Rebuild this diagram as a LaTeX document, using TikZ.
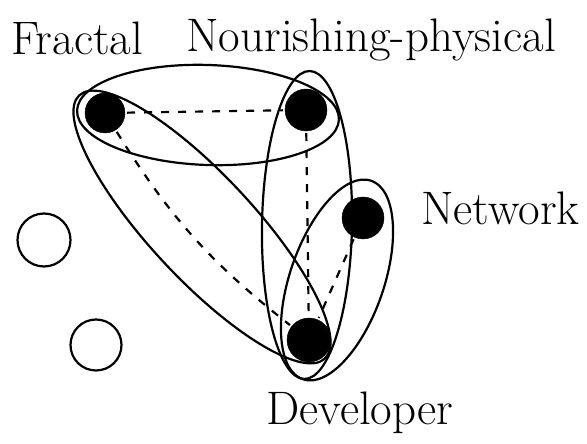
\documentclass[tikz,border=0pt]{standalone}
\usepackage{tikz}
\usetikzlibrary{shapes,arrows,positioning,calc}
\tikzstyle{dot} = [draw, circle, fill=black, minimum size=42pt, inner sep=0pt]
\tikzstyle{hollow} = [draw, circle, line width=2.2pt, minimum size=53pt, inner sep=0pt]
\tikzstyle{tag} = [anchor=base west, inner sep=0pt, font=\fontsize{47}{50}\selectfont]
\tikzstyle{edge} = [line width=2.2pt]
\tikzstyle{link} = [line width=2.2pt, dash pattern=on 8pt off 9pt, shorten <=2pt, shorten >=2pt]

\begin{document}
\begin{tikzpicture}[x=1pt, y=1pt]
    \useasboundingbox (0,0) rectangle (587,444);
    % Vertices
    \node [dot, minimum size=40pt] (fractal) at (105,331) {};
    \node [dot] (nourish) at (306,334) {};
    \node [dot] (network) at (363,226) {};
    \node [dot, minimum size=44pt] (developer) at (309,104) {};
    \node [hollow] (lone1) at (44,204) {};
    \node [hollow, minimum size=51pt] (lone2) at (96,99) {};

    % Labels
    \node [tag] (fractaltag) at (11,389) {Fractal};
    \node [tag] (nourishtag) at (186,392) {Nourishing-physical};
    \node [tag] (networktag) at (421,219) {Network};
    \node [tag] (developertag) at (266,19) {Developer};

    % Hyperedges
    \draw [edge, rotate around={-2:(208,329)}] (208,329) ellipse (131pt and 50pt);
    \draw [edge, rotate around={-47:(202,217)}] (202,217) ellipse (180pt and 52pt);
    \draw [edge, rotate around={89:(307,219)}] (307,219) ellipse (154pt and 45pt);
    \draw [edge, rotate around={71:(337,164)}] (337,164) ellipse (105pt and 47pt);

    % Connections
    \draw [link] (fractal) -- (nourish);
    \draw [link] (fractal) to[bend right=10] (developer);
    \draw [link] (nourish) -- (developer);
    \draw [link] (network) -- (developer);
\end{tikzpicture}
\end{document}
